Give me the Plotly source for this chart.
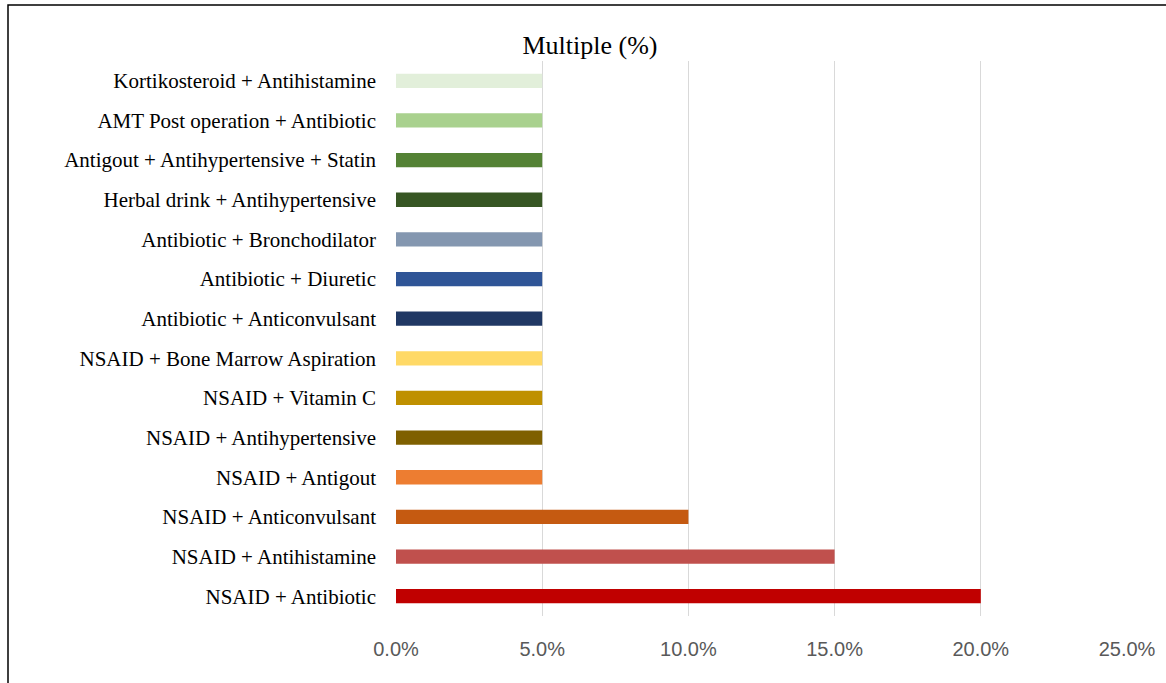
import plotly.graph_objects as go

# Drug combinations, listed bottom to top
categories = [
    "NSAID + Antibiotic",
    "NSAID + Antihistamine",
    "NSAID + Anticonvulsant",
    "NSAID + Antigout",
    "NSAID + Antihypertensive",
    "NSAID + Vitamin C",
    "NSAID + Bone Marrow Aspiration",
    "Antibiotic + Anticonvulsant",
    "Antibiotic + Diuretic",
    "Antibiotic + Bronchodilator",
    "Herbal drink + Antihypertensive",
    "Antigout + Antihypertensive + Statin",
    "AMT Post operation + Antibiotic",
    "Kortikosteroid + Antihistamine",
]
values = [0.20, 0.15, 0.10, 0.05, 0.05, 0.05, 0.05, 0.05, 0.05, 0.05, 0.05, 0.05, 0.05, 0.05]
colors = [
    "#C00000", "#C0504D", "#C55A11", "#ED7D31", "#7F6000", "#BF9000", "#FFD966",
    "#203864", "#2F5597", "#8497B0", "#375623", "#548235", "#A9D18E", "#E2EFDA",
]
x_ticks = [0, 0.05, 0.10, 0.15, 0.20, 0.25]

W, H = 1166, 683
L, R, T, B = 396, 39, 61, 67

fig = go.Figure(
    go.Bar(
        x=values,
        y=categories,
        orientation="h",
        marker=dict(color=colors, line=dict(width=0)),
        width=0.36,
        hoverinfo="x+y",
    )
)

pw = W - L - R
ph = H - T - B


def px_x(p):
    return (p - L) / pw


def px_y(p):
    return (H - B - p) / ph


fig.update_layout(
    width=W,
    height=H,
    margin=dict(l=L, r=R, t=T, b=B, autoexpand=False),
    paper_bgcolor="white",
    plot_bgcolor="white",
    showlegend=False,
    title=dict(
        text="Multiple (%)",
        x=590 / W,
        xref="container",
        xanchor="center",
        y=1 - 45 / H,
        yref="container",
        yanchor="middle",
        font=dict(family="Liberation Serif", size=26, color="#000000"),
    ),
    xaxis=dict(
        range=[0, 0.25],
        tickvals=x_ticks,
        tickformat=".1%",
        showgrid=True,
        gridcolor="#D9D9D9",
        gridwidth=1,
        zeroline=False,
        showline=False,
        ticks="",
        ticklabelstandoff=19,
        tickfont=dict(family="Liberation Sans", size=20, color="#595959"),
        fixedrange=True,
    ),
    yaxis=dict(
        type="category",
        showgrid=False,
        zeroline=False,
        showline=False,
        ticks="",
        ticklabelstandoff=19,
        tickfont=dict(family="Liberation Serif", size=21, color="#000000"),
        fixedrange=True,
    ),
    shapes=[
        dict(
            type="rect",
            xref="paper",
            yref="paper",
            x0=px_x(8),
            x1=px_x(1172),
            y0=px_y(690),
            y1=px_y(5),
            line=dict(color="#000000", width=1.5),
            fillcolor="rgba(0,0,0,0)",
            layer="above",
        )
    ],
)

fig.write_html("out.html")
